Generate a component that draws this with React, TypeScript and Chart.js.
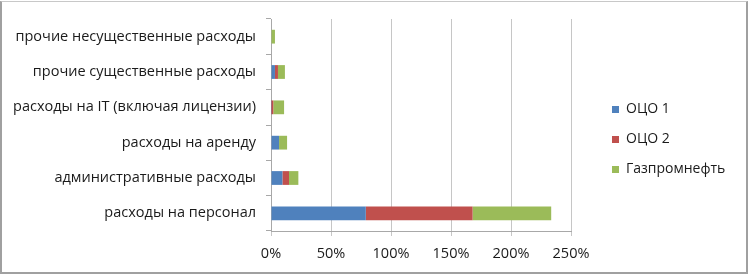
import React, { useEffect, useRef } from "react";
import { Chart, registerables } from "chart.js";

Chart.register(...registerables);

const categories = [
  "прочие несущественные расходы",
  "прочие существенные расходы",
  "расходы на IT (включая лицензии)",
  "расходы на аренду",
  "административные расходы",
  "расходы на персонал",
];
const oco1 = [0, 3.3, 0.2, 6.7, 9.5, 79];
const oco2 = [0, 2.5, 1.7, 0, 5.5, 89];
const gazprom = [3.3, 5.8, 9, 6.7, 7.8, 65.5];
const xTickLabels = ["0%", "50%", "100%", "150%", "200%", "250%"];
const seriesNames = ["ОЦО 1", "ОЦО 2", "Газпромнефть"];

const W = 748;
const H = 274;
const PLOT_LEFT = 271;
const PLOT_RIGHT = 571;
const PLOT_TOP = 19;
const PLOT_BOTTOM = 231;
const LEGEND_BOX_X = 612;
const LEGEND_SHIFT_Y = -7;
const FONT = "'Open Sans', 'Noto Sans', sans-serif";

const legendPlacer = {
  id: "legendPlacer",
  beforeLayout(chart: any) {
    const lg = chart.legend;
    if (lg && !lg.__patched) {
      const orig = lg.fit.bind(lg);
      lg.fit = function () {
        orig();
        this.width = W - PLOT_RIGHT;
      };
      lg.__patched = true;
    }
  },
  afterLayout(chart: any) {
    const lg = chart.legend;
    if (!lg) return;
    const pad = lg.options.labels.padding;
    const newLeft = LEGEND_BOX_X - pad;
    const w = lg.right - lg.left;
    lg.left = newLeft;
    lg.right = newLeft + w;
    lg.top += LEGEND_SHIFT_Y;
    lg.bottom += LEGEND_SHIFT_Y;
  },
};

export default function App() {
  const ref = useRef<HTMLCanvasElement | null>(null);
  useEffect(() => {
    if (!ref.current) return;
    const chart = new Chart(ref.current, {
      type: "bar",
      data: {
        labels: categories,
        datasets: [
          { label: seriesNames[0], data: oco1, backgroundColor: "#4F81BD" },
          { label: seriesNames[1], data: oco2, backgroundColor: "#C0504D" },
          { label: seriesNames[2], data: gazprom, backgroundColor: "#9BBB59" },
        ],
      },
      options: {
        indexAxis: "y",
        responsive: false,
        animation: false,
        devicePixelRatio: 1,
        datasets: { bar: { barPercentage: 0.39, categoryPercentage: 1 } },
        layout: { padding: { left: 0, right: 0, top: PLOT_TOP, bottom: 0 } },
        plugins: {
          tooltip: { enabled: false },
          legend: {
            position: "right",
            align: "center",
            labels: {
              boxWidth: 7,
              boxHeight: 7,
              padding: 16,
              color: "#1a1a1a",
              font: { family: FONT, size: 14 },
            },
          },
        },
        scales: {
          x: {
            stacked: true,
            min: 0,
            max: 250,
            ticks: {
              stepSize: 50,
              padding: 9,
              color: "#1a1a1a",
              font: { family: FONT, size: 14.5 },
              callback: (_v: any, i: number) => xTickLabels[i],
            },
            grid: { color: "#c6c6c6", tickLength: 5, drawTicks: true },
            border: { color: "#a8a8a8" },
            afterFit: (s: any) => {
              s.height = H - PLOT_BOTTOM;
            },
          },
          y: {
            stacked: true,
            ticks: {
              padding: 10,
              color: "#1a1a1a",
              font: { family: FONT, size: 14.5 },
            },
            grid: {
              drawOnChartArea: false,
              drawTicks: true,
              tickLength: 5,
              offset: true,
              color: "#a8a8a8",
            },
            border: { color: "#a8a8a8" },
            afterFit: (s: any) => {
              s.width = PLOT_LEFT;
            },
          },
        },
      },
      plugins: [legendPlacer],
    });
    return () => chart.destroy();
  }, []);

  return (
    <div
      style={{
        position: "fixed",
        left: 0,
        top: 0,
        width: W,
        height: H,
        background: "#fff",
      }}
    >
      <canvas ref={ref} width={W} height={H} style={{ display: "block" }} />
      <div
        style={{
          position: "absolute",
          left: 0,
          top: 1,
          width: W - 4,
          height: H - 4,
          borderTop: "1px solid #c8c8c8",
          borderLeft: "2px solid #a0a0a0",
          borderRight: "2px solid #a0a0a0",
          borderBottom: "2px solid #a0a0a0",
          pointerEvents: "none",
        }}
      />
    </div>
  );
}
